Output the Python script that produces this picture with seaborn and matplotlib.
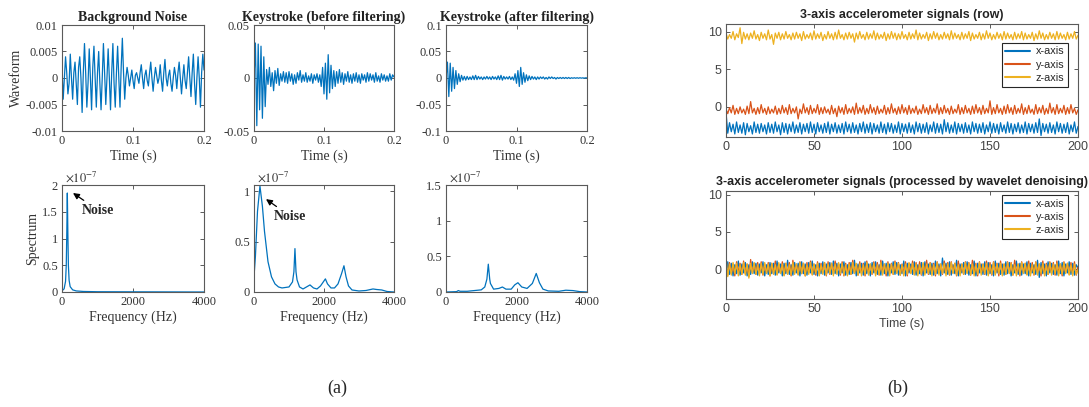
import numpy as np
import pandas as pd
import matplotlib
matplotlib.use("Agg")
import matplotlib.pyplot as plt
from matplotlib.ticker import FuncFormatter, FixedLocator
import seaborn as sns

# ---------------- data ----------------
# Acoustic waveforms, amplitude in units of 1e-3, sampled evenly over 0-0.2 s
noise_wave = [2, -4, 0, 4, 1, -3, -1, 4.5, 0, -4, 1, 3, -1, -5, 2, 4,
              0, -6.5, 1, 6.5, 1, -5.5, -1, 5.5, 0, -6, 2, 6, 0, -5.5, 1, 5,
              -1, -6, 0, 6.5, 1, -5, 0, 5.5, 0, -6, 1, 6.5, -1, -5.5, 1, 6,
              0, -5.5, 2, 7.5, 1, -4, 0, 2, 0.5, -1.5, 0, 1.5, -0.5, -2, 0.5, 1,
              0, -1, 1, 2.5, 0, -2, 0.5, 1.5, -0.5, -1.5, 1, 3, 0, -2.5, 0, 2,
              0.5, -1, 0, 2.5, -0.5, -2.5, 1, 3.5, 0, -1.5, 0.5, 1.5, -1, -2.5, 0, 2,
              0.5, -2, 1, 3, 0, -3, 0, 2.5, -0.5, -2, 1, 4, 0, -3.5, 1, 4.5,
              -1, -5, 0, 4, 0, -5.5, 1, 4.5, 1.5]
before_wave = [0, 33, -45, 32, -30, 30, -38, 20, -27, 8, -6, 10, -8, 5, -12, 7, -5, 9, -7, 4,
               -3, 6, -4, 5, -5, 6, -3, 4, -6, 3, -5, 5, -2, 7, -4, 3, -3, 5, -4, 2,
               -3, 4, -5, 3, -2, 4, -4, 3, -8, 10, -15, 14, -20, 22, -14, 12, -10, 7, -8, 6,
               -5, 8, -4, 5, -6, 4, -3, 6, -4, 3, -5, 4, -3, 5, -4, 3, -5, 4, -2, 3,
               -4, 5, -3, 4, -2, 3, -4, 5, -3, 2, -4, 4, -2, 3, -3, 2, -3, 4, -2, 3, 1]
after_wave = [0, 30, -35, 28, -25, 20, -20, 14, -12, 8, -7, 5, -4, 3, -4, 3, -3, 2, -3, 4,
              -3, 5, -3, 3, -2, 2, -3, 2, -2, 3, -2, 2, -3, 3, -2, 2, -3, 4, -3, 5,
              -4, 3, -2, 2, -2, 3, -3, 2, -4, 8, -10, 14, -16, 20, -12, 10, -8, 6, -5, 4,
              -3, 3, -2, 2, -3, 2, -2, 2, -1, 2, -2, 1, -2, 2, -1, 2, -1, 1, -2, 1,
              -1, 1, -1, 1, -1, 1, -1, 1, -1, 0.5, -0.5, 0.5, -0.5, 0.5, -0.5, 0.5, -0.3, 0.3, -0.3, 0.3, 0.2]

# Spectra, magnitude in units of 1e-7
noise_freq = [0, 60, 100, 120, 135, 150, 165, 180, 200, 230, 300, 400, 600, 1000, 4000]
noise_spec = [0.02, 0.06, 0.2, 0.5, 1.1, 1.85, 1.1, 0.5, 0.22, 0.1, 0.04, 0.02, 0.01, 0.005, 0.0]
before_freq = [0, 40, 100, 170, 240, 300, 400, 500, 600, 700, 800, 900, 1000, 1100, 1140, 1170,
               1200, 1230, 1300, 1400, 1500, 1600, 1700, 1800, 1900, 2000, 2040, 2100, 2200,
               2300, 2400, 2500, 2570, 2630, 2700, 2800, 3000, 3200, 3400, 3500, 3650, 3800, 4000]
before_spec = [0.15, 0.35, 0.8, 1.05, 0.85, 0.6, 0.3, 0.15, 0.08, 0.05, 0.04, 0.045, 0.05, 0.1,
               0.2, 0.43, 0.2, 0.12, 0.05, 0.03, 0.05, 0.07, 0.04, 0.03, 0.06, 0.11, 0.13, 0.08,
               0.04, 0.04, 0.08, 0.18, 0.26, 0.15, 0.06, 0.02, 0.01, 0.015, 0.03, 0.025, 0.02,
               0.005, 0.0]
after_freq = [0, 300, 350, 400, 600, 800, 1000, 1100, 1160, 1200, 1240, 1260, 1350, 1500, 1600,
              1700, 1850, 1950, 2040, 2150, 2300, 2450, 2560, 2650, 2750, 2900, 3200, 3400,
              3600, 3800, 4000]
after_spec = [0.0, 0.005, 0.02, 0.01, 0.01, 0.02, 0.03, 0.07, 0.18, 0.39, 0.18, 0.12, 0.04, 0.05,
              0.07, 0.04, 0.04, 0.1, 0.13, 0.07, 0.05, 0.12, 0.26, 0.13, 0.04, 0.015, 0.01, 0.025,
              0.02, 0.005, 0.0]

# Accelerometer traces (m/s^2) sampled evenly over 0-200 s
raw_x = [-0.7, -3.5, -2.1, -3.3, -2.3, -3.6, -2.0, -3.4, -2.4, -3.5, -2.1, -3.7, -2.2, -3.3, -2.5, -3.6, -2.0, -3.4, -2.3, -3.5,
         -2.2, -3.3, -2.4, -3.6, -2.1, -3.4, -2.3, -3.5, -2.0, -3.3, -2.4, -3.7, -2.1, -3.4, -2.2, -3.6, -2.3, -3.3, -2.0, -3.5,
         -2.4, -3.4, -2.1, -3.6, -2.3, -3.3, -2.2, -3.5, -2.0, -3.4, -2.3, -3.6, -2.1, -3.3, -2.4, -3.5, -2.2, -3.4, -2.0, -3.6,
         -2.3, -3.3, -2.1, -3.5, -2.4, -3.4, -2.2, -3.6, -2.0, -3.3, -2.3, -3.5, -2.1, -3.4, -2.4, -3.6, -2.2, -3.3, -2.0, -3.5,
         -2.3, -3.4, -2.1, -3.6, -2.2, -3.3, -2.4, -3.5, -2.0, -3.4, -2.3, -3.6, -2.1, -3.3, -2.2, -3.5, -2.4, -3.4, -2.0, -3.6,
         -2.2, -3.3, -2.3, -3.5, -2.1, -3.4, -2.4, -3.6, -2.0, -3.3, -2.2, -3.5, -2.3, -3.4, -2.1, -3.6, -2.4, -3.3, -2.0, -3.5,
         -2.2, -3.4, -2.3, -3.6, -1.7, -3.3, -2.1, -3.5, -2.4, -3.4, -2.0, -3.6, -2.2, -3.3, -2.3, -3.5, -2.1, -3.4, -2.4, -3.6,
         -2.0, -3.3, -2.2, -3.5, -2.3, -3.4, -2.1, -3.6, -2.4, -3.3, -2.0, -3.5, -2.2, -3.4, -2.3, -3.6, -2.1, -3.3, -2.4, -3.5,
         -2.0, -3.4, -2.2, -3.6, -2.3, -3.3, -2.1, -3.5, -2.4, -3.4, -2.0, -3.6, -2.2, -3.3, -2.3, -3.5, -2.1, -3.4, -1.6, -3.8,
         -2.2, -3.3, -2.3, -3.5, -2.1, -3.4, -2.4, -3.6, -2.0, -3.3, -2.2, -3.5, -2.3, -3.4, -2.1, -3.6, -2.4, -3.3, -2.0, -3.5,
         -2.6]
raw_y = [-0.3, -0.9, -0.1, -0.8, 0.2, -1.0, -0.2, -0.9, 0.0, -0.8, -0.3, -1.0, 0.1, -0.9, 0.7, -0.8, -0.2, -1.0, -0.1, -0.9,
         0.3, -0.8, -0.2, -1.0, 0.0, -0.9, -0.3, -0.8, 0.1, -1.0, -0.2, -0.9, 0.2, -0.8, -0.1, -1.0, 0.3, -0.9, -0.2, -0.8,
         0.0, -1.6, -0.3, -0.9, 0.4, -0.8, -0.1, -1.0, 0.2, -0.9, -0.2, -0.8, 0.3, -1.0, -0.1, -0.9, 0.0, -0.8, -0.3, -1.0,
         0.2, -0.9, -0.2, -1.3, 0.1, -0.8, -0.1, -1.0, 0.3, -0.9, -0.2, -0.8, 0.0, -1.0, 0.5, -0.9, -0.1, -0.8, 0.2, -1.0,
         -0.2, -0.9, 0.3, -0.8, -0.1, -1.0, 0.1, -0.9, -0.3, -0.8, 0.2, -1.0, -0.1, -0.9, 0.4, -0.8, -0.2, -1.0, 0.0, -0.9,
         0.3, -0.8, -0.1, -1.0, 0.2, -0.9, -0.2, -0.8, 0.1, -1.0, -0.3, -0.9, 0.3, -0.8, -0.1, -1.0, 0.2, -0.9, -0.2, -0.8,
         0.4, -1.0, -0.1, -0.9, 0.2, -0.8, -0.2, -1.0, 0.1, -0.9, -0.3, -0.8, 0.3, -1.0, -0.1, -0.9, 0.2, -0.8, -0.2, -1.0,
         0.1, -0.9, 0.3, -0.8, -0.1, -1.0, 0.2, -0.9, -0.2, -0.8, 0.8, -1.0, -0.1, -0.9, 0.3, -0.8, -0.2, -1.0, 0.1, -0.9,
         0.3, -0.8, -0.1, -1.0, 0.2, -0.9, -0.2, -0.8, 0.4, -1.0, -0.1, -0.9, 0.2, -0.8, -0.3, -1.0, 0.3, -0.9, -0.1, -0.8,
         0.2, -1.0, -0.2, -0.9, 0.5, -0.8, -0.1, -1.0, 0.3, -0.9, -0.2, -0.8, 0.2, -1.0, -0.1, -0.9, 0.3, -0.8, -0.2, -1.0,
         -0.4]
raw_z = [9.8, 9.0, 9.6, 9.1, 10.0, 8.9, 9.7, 9.2, 10.5, 8.4, 9.9, 9.0, 9.7, 8.9, 9.8, 9.1, 10.1, 9.0, 9.6, 8.8,
         9.9, 9.1, 9.7, 8.9, 10.2, 9.0, 9.6, 8.3, 9.8, 9.1, 9.9, 8.9, 9.7, 9.0, 10.0, 9.1, 9.6, 8.9, 9.8, 9.0,
         9.9, 9.1, 9.7, 8.8, 10.0, 9.0, 9.6, 9.1, 9.8, 8.9, 10.1, 9.0, 9.7, 9.1, 9.9, 8.8, 9.6, 9.0, 10.0, 9.1,
         9.7, 8.9, 9.9, 9.0, 10.2, 9.1, 9.6, 8.9, 9.8, 9.0, 9.9, 9.1, 9.7, 8.6, 9.8, 9.0, 10.0, 9.1, 9.6, 8.9,
         9.9, 9.0, 9.7, 9.1, 10.1, 8.9, 9.8, 9.0, 9.6, 9.1, 9.9, 8.8, 9.7, 9.0, 10.0, 9.1, 9.8, 8.9, 9.7, 9.0,
         10.0, 9.1, 9.6, 8.9, 9.9, 9.0, 9.7, 9.1, 10.2, 8.9, 9.8, 9.0, 9.6, 9.1, 9.9, 8.8, 9.7, 9.0, 10.0, 9.1,
         9.8, 8.9, 9.6, 9.0, 9.9, 9.1, 9.7, 8.9, 10.1, 9.0, 9.8, 9.1, 9.6, 8.9, 9.9, 9.0, 9.7, 9.1, 10.0, 8.8,
         9.8, 9.0, 9.6, 9.1, 9.9, 8.9, 9.7, 9.0, 10.1, 9.1, 9.8, 8.9, 9.6, 9.0, 9.9, 9.1, 9.7, 8.9, 10.0, 9.0,
         9.8, 9.1, 9.6, 8.9, 9.9, 9.0, 9.7, 9.1, 10.0, 8.9, 9.8, 9.0, 9.6, 9.1, 9.9, 8.8, 9.7, 9.0, 10.1, 9.1,
         9.8, 8.9, 9.6, 9.0, 9.9, 9.1, 9.7, 8.9, 10.0, 9.0, 9.8, 9.1, 9.6, 8.9, 9.9, 9.0, 9.7, 9.1, 10.0, 9.0,
         9.5]
den_x = [-1.5, 1.0, -0.7, 0.8, -0.9, 0.6, -0.6, 1.1, -0.8, 0.7, -0.5, 0.9, -0.9, 0.6, -0.7, 1.0, -0.6, 0.8, -0.8, 0.7,
         -0.5, 1.0, -0.9, 0.6, -0.7, 0.9, -0.6, 0.8, -0.8, 1.1, -0.5, 0.7, -0.9, 0.8, -0.6, 1.2, -0.7, 0.6, -0.8, 0.9,
         -0.5, 0.8, -0.9, 1.0, -0.6, 0.7, -0.8, 0.9, -0.5, 1.1, -0.7, 0.6, -0.9, 0.8, -0.6, 1.0, -0.8, 0.7, -0.5, 0.9,
         -0.7, 1.1, -0.6, 0.8, -0.9, 0.7, -0.5, 1.0, -0.8, 0.6, -0.7, 0.9, -0.6, 1.2, -0.9, 0.7, -0.5, 0.8, -0.8, 1.0,
         -0.6, 0.7, -0.9, 0.9, -0.5, 1.0, -0.7, 0.6, -0.8, 1.1, -0.6, 0.8, -0.9, 0.7, -0.5, 1.0, -0.7, 0.9, -0.8, 0.6,
         -0.6, 1.1, -0.9, 0.8, -0.5, 0.7, -0.7, 1.0, -0.8, 0.6, -0.6, 0.9, -0.9, 1.0, -0.5, 0.7, -0.7, 0.8, -0.8, 1.1,
         -0.6, 0.7, -0.9, 1.5, -0.5, 0.8, -0.7, 1.0, -0.8, 0.6, -0.6, 1.2, -0.9, 0.7, -0.5, 0.9, -0.7, 1.0, -0.8, 0.6,
         -0.6, 1.1, -0.9, 0.8, -0.5, 0.7, -0.7, 1.0, -0.8, 0.9, -0.6, 0.6, -0.9, 1.1, -0.5, 0.8, -0.7, 0.7, -0.8, 1.0,
         -0.6, 0.9, -0.9, 0.6, -0.5, 1.1, -0.7, 0.8, -0.8, 0.7, -0.6, 1.0, -0.9, 0.8, -0.5, 0.6, -0.7, 1.2, -1.1, 0.9,
         -0.6, 0.7, -0.9, 1.0, -0.5, 0.8, -0.7, 0.6, -0.8, 1.1, -0.6, 0.9, -0.9, 0.7, -0.5, 1.0, -0.7, 0.8, -0.8, 0.6,
         0.2]
den_y = [0.4, -0.8, 0.9, -0.6, 0.7, -0.9, 1.0, -0.5, 0.8, -0.7, 1.1, -0.6, 0.7, -1.0, 1.3, -0.5, 0.8, -0.7, 0.9, -0.6,
         1.0, -0.8, 0.7, -0.5, 0.9, -0.9, 0.8, -0.6, 1.1, -0.7, 0.7, -0.5, 1.0, -0.8, 0.8, -0.6, 0.9, -0.9, 1.2, -0.5,
         0.7, -0.7, 1.0, -0.6, 0.8, -0.9, 0.9, -0.5, 1.1, -0.7, 0.7, -0.8, 1.0, -0.6, 0.8, -0.5, 0.9, -0.9, 1.0, -0.7,
         0.8, -0.6, 1.1, -0.5, 0.7, -0.8, 1.0, -0.9, 0.8, -0.6, 0.9, -0.7, 1.2, -0.5, 0.7, -0.8, 1.0, -0.6, 0.8, -0.9,
         1.1, -0.5, 0.7, -0.7, 1.0, -0.6, 0.9, -0.8, 1.2, -0.5, 0.7, -0.9, 1.0, -0.6, 0.8, -0.7, 1.1, -0.5, 0.9, -0.8,
         0.7, -0.6, 1.0, -0.9, 0.8, -0.5, 1.1, -0.7, 0.9, -0.6, 1.0, -0.8, 0.7, -0.5, 1.2, -0.7, 0.9, -0.6, 0.8, -0.9,
         1.0, -0.5, 0.7, -0.7, 1.1, -0.6, 0.9, -0.8, 1.0, -0.5, 0.8, -0.9, 1.1, -0.6, 0.7, -0.7, 1.0, -0.5, 0.9, -0.8,
         1.2, -0.6, 0.8, -0.9, 1.0, -0.5, 0.7, -0.7, 1.1, -0.6, 0.9, -0.8, 1.0, -0.5, 0.8, -0.9, 1.1, -0.6, 0.7, -0.7,
         1.0, -0.5, 0.9, -0.8, 1.2, -0.6, 0.7, -0.9, 1.0, -0.5, 0.8, -0.7, 1.1, -0.6, 0.9, -0.8, 1.0, -0.5, 0.7, -0.9,
         1.1, -0.6, 0.8, -0.7, 1.0, -0.5, 0.9, -0.8, 1.1, -0.6, 0.7, -0.9, 1.0, -0.5, 0.8, -0.7, 0.9, -0.6, 1.0, -0.8,
         0.3]
den_z = [1.6, -1.0, 0.7, -0.8, 0.9, -0.6, 0.8, -0.9, 0.6, -0.7, 0.9, -0.8, 0.7, -1.2, 0.8, -0.6, 0.9, -0.7, 0.6, -0.9,
         0.8, -0.7, 0.9, -0.6, 0.7, -0.9, 0.8, -0.7, 0.6, -0.8, 0.9, -0.6, 0.7, -0.9, 0.8, -0.7, 0.6, -0.8, 0.9, -0.7,
         0.7, -0.8, 0.9, -0.6, 0.8, -0.9, 0.6, -0.7, 0.9, -0.8, 0.7, -0.6, 0.8, -0.9, 0.6, -0.7, 0.9, -0.8, 0.7, -0.6,
         0.8, -0.9, 0.7, -0.7, 0.9, -0.6, 0.8, -0.8, 0.6, -0.9, 0.7, -0.7, 0.9, -0.6, 0.8, -0.8, 0.7, -0.9, 0.6, -0.7,
         0.9, -0.8, 0.7, -0.6, 0.8, -0.9, 0.6, -0.7, 0.9, -0.8, 0.7, -0.6, 0.8, -0.9, 0.7, -0.7, 0.9, -0.6, 0.8, -0.8,
         0.6, -0.9, 0.7, -0.7, 0.9, -0.6, 0.8, -0.8, 0.7, -0.9, 0.6, -0.7, 0.9, -0.8, 0.7, -0.6, 0.8, -0.9, 0.6, -0.7,
         0.9, -0.8, 0.7, -0.6, 0.8, -0.9, 0.7, -0.7, 0.9, -0.6, 0.8, -0.8, 0.6, -0.9, 0.7, -0.7, 0.9, -0.6, 0.8, -0.8,
         0.7, -0.9, 0.6, -0.7, 0.9, -0.8, 0.7, -0.6, 0.8, -0.9, 0.6, -0.7, 0.9, -0.8, 0.7, -0.6, 0.8, -0.9, 0.7, -0.7,
         0.9, -0.6, 0.8, -0.8, 0.6, -0.9, 0.7, -0.7, 0.9, -0.6, 0.8, -0.8, 0.7, -0.9, 0.6, -0.7, 0.9, -0.8, 0.7, -0.6,
         0.8, -0.9, 0.6, -0.7, 0.9, -0.8, 0.7, -0.6, 0.8, -0.9, 0.7, -0.7, 0.9, -0.6, 0.8, -0.8, 0.6, -0.9, 0.7, -0.7,
         0.0]

axis_names = ["x-axis", "y-axis", "z-axis"]
axis_colors = ["#0072BD", "#D95319", "#EDB120"]

# ---------------- style ----------------
sns.set_style("white")
SERIF = "Liberation Serif"
SANS = "Liberation Sans"
plt.rcParams.update({
    "font.family": [SANS, "DejaVu Sans"],
    "axes.unicode_minus": False,
    "mathtext.fontset": "stix",
    "axes.edgecolor": "#5a5a5a",
    "axes.linewidth": 0.8,
    "xtick.direction": "in",
    "ytick.direction": "in",
    "xtick.bottom": True,
    "ytick.left": True,
    "xtick.top": True,
    "ytick.right": True,
    "xtick.major.size": 3,
    "ytick.major.size": 3,
    "xtick.major.width": 0.7,
    "ytick.major.width": 0.7,
    "xtick.color": "#5a5a5a",
    "ytick.color": "#5a5a5a",
    "xtick.labelcolor": "#333333",
    "ytick.labelcolor": "#333333",
    "xtick.major.pad": 3,
    "ytick.major.pad": 3,
    "axes.labelcolor": "#333333",
})

W, H = 1089, 407
fig = plt.figure(figsize=(W / 100, H / 100), dpi=100)


def px_axes(left, top, right, bottom):
    return fig.add_axes([left / W, 1 - bottom / H, (right - left) / W, (bottom - top) / H])


def gfmt(scale=1.0):
    return FuncFormatter(lambda v, p: f"{round(v / scale, 6):g}")


def trace(ax, x, y, color, lw, label=None):
    sns.lineplot(x=np.asarray(x, float), y=np.asarray(y, float), ax=ax, color=color,
                 linewidth=lw, estimator=None, sort=False, legend=False, label=label)


BLUE = "#0072BD"

# ---------------- (a) acoustic panels ----------------
wave_axes = [px_axes(62, 25, 204, 131), px_axes(254, 25, 394, 131), px_axes(446, 25, 587, 131)]
spec_axes = [px_axes(62, 185, 204, 292), px_axes(254, 185, 394, 292), px_axes(446, 185, 587, 292)]

wave_titles = ["Background Noise", "Keystroke (before filtering)", "Keystroke (after filtering)"]
waves = [noise_wave, before_wave, after_wave]
wave_ylims = [0.01, 0.05, 0.1]
wave_yticks = [[-0.01, -0.005, 0, 0.005, 0.01], [-0.05, 0, 0.05], [-0.1, -0.05, 0, 0.05, 0.1]]

for ax, title, w, lim, yt in zip(wave_axes, wave_titles, waves, wave_ylims, wave_yticks):
    t = np.linspace(0, 0.2, len(w))
    trace(ax, t, np.asarray(w) * 1e-3, BLUE, 0.9)
    ax.set_xlim(0, 0.2)
    ax.set_ylim(-lim, lim)
    ax.xaxis.set_major_locator(FixedLocator([0, 0.1, 0.2]))
    ax.yaxis.set_major_locator(FixedLocator(yt))
    ax.xaxis.set_major_formatter(gfmt())
    ax.yaxis.set_major_formatter(gfmt())
    ax.set_title(title, fontfamily=SERIF, fontweight="bold", fontsize=10, pad=3, color="#222222")
    ax.set_xlabel("Time (s)", fontfamily=SERIF, fontsize=10, labelpad=2)
    ax.set_ylabel("")
    ax.tick_params(labelfontfamily=SERIF, labelsize=9)
wave_axes[0].set_ylabel("Waveform", fontfamily=SERIF, fontsize=10, labelpad=2)

spec_freqs = [noise_freq, before_freq, after_freq]
specs = [noise_spec, before_spec, after_spec]
spec_ylims = [2.0, 1.06, 1.5]
spec_yticks = [[0, 0.5, 1, 1.5, 2], [0, 0.5, 1], [0, 0.5, 1, 1.5]]

for ax, f, s, lim, yt in zip(spec_axes, spec_freqs, specs, spec_ylims, spec_yticks):
    trace(ax, f, np.asarray(s) * 1e-7, BLUE, 0.9)
    ax.set_xlim(0, 4000)
    ax.set_ylim(0, lim * 1e-7)
    ax.xaxis.set_major_locator(FixedLocator([0, 2000, 4000]))
    ax.yaxis.set_major_locator(FixedLocator([v * 1e-7 for v in yt]))
    ax.xaxis.set_major_formatter(gfmt())
    ax.yaxis.set_major_formatter(gfmt(1e-7))
    ax.set_xlabel("Frequency (Hz)", fontfamily=SERIF, fontsize=10, labelpad=2)
    ax.set_ylabel("")
    ax.tick_params(labelfontfamily=SERIF, labelsize=9)
    ax.text(0.02, 1.005, r"$\times10^{-7}$", transform=ax.transAxes, ha="left", va="bottom",
            fontsize=9, color="#333333")
spec_axes[0].set_ylabel("Spectrum", fontfamily=SERIF, fontsize=10, labelpad=2)

arrow = dict(arrowstyle="-|>", color="black", lw=0.9, mutation_scale=9, shrinkA=0, shrinkB=0)
spec_axes[0].annotate("Noise", xy=(310, 1.85e-7), xytext=(560, 1.53e-7), ha="left", va="center",
                      fontfamily=SERIF, fontweight="bold", fontsize=10, arrowprops=arrow)
spec_axes[1].annotate("Noise", xy=(343, 0.92e-7), xytext=(575, 0.75e-7), ha="left", va="center",
                      fontfamily=SERIF, fontweight="bold", fontsize=10, arrowprops=arrow)

# ---------------- (b) accelerometer panels ----------------
acc_raw = px_axes(726, 24, 1078, 137)
acc_den = px_axes(726, 191, 1078, 299)

for ax, series, top, title in [
    (acc_raw, [raw_x, raw_y, raw_z], 11, "3-axis accelerometer signals (row)"),
    (acc_den, [den_x, den_y, den_z], 10.5, "3-axis accelerometer signals (processed by wavelet denoising)"),
]:
    for vals, name, col in zip(series, axis_names, axis_colors):
        trace(ax, np.linspace(0, 200, len(vals)), vals, col, 0.9, label=name)
    ax.set_xlim(0, 200)
    ax.set_ylim(-4, top)
    ax.xaxis.set_major_locator(FixedLocator([0, 50, 100, 150, 200]))
    ax.yaxis.set_major_locator(FixedLocator([0, 5, 10]))
    ax.xaxis.set_major_formatter(gfmt())
    ax.yaxis.set_major_formatter(gfmt())
    ax.tick_params(labelfontfamily=SANS, labelsize=9, labelcolor="#444444")
    ax.set_title(title, fontfamily=SANS, fontweight="bold", fontsize=8.9, pad=4, color="#222222")
    ax.set_xlabel("")
    ax.set_ylabel("")

acc_den.set_xlabel("Time (s)", fontfamily=SANS, fontsize=9, labelpad=2, color="#444444")

for ax, anchor in [(acc_raw, (0.972, 0.835)), (acc_den, (0.972, 0.965))]:
    leg = ax.legend(loc="upper right", bbox_to_anchor=anchor, frameon=True, fancybox=False,
                    edgecolor="#262626", framealpha=1, borderpad=0.35, labelspacing=0.3,
                    handlelength=2.3, handletextpad=0.5, borderaxespad=0,
                    prop={"family": SANS, "size": 7.8})
    leg.get_frame().set_linewidth(0.8)
    for line in leg.get_lines():
        line.set_linewidth(1.5)
    for txt in leg.get_texts():
        txt.set_color("#262626")

# ---------------- sub-figure captions ----------------
fig.text(337 / W, 1 - 388 / H, "(a)", ha="center", va="center", fontfamily=SERIF, fontsize=13)
fig.text(898 / W, 1 - 388 / H, "(b)", ha="center", va="center", fontfamily=SERIF, fontsize=13)

fig.savefig("out.png", dpi=100)
